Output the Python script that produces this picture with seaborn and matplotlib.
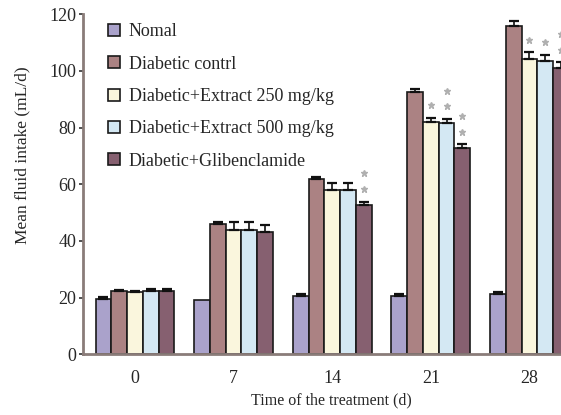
import numpy as np
import pandas as pd
import matplotlib
matplotlib.use("Agg")
import matplotlib.pyplot as plt
import seaborn as sns

# datos
days = ["0", "7", "14", "21", "28"]
groups = ["Nomal", "Diabetic contrl", "Diabetic+Extract 250 mg/kg",
          "Diabetic+Extract 500 mg/kg", "Diabetic+Glibenclamide"]

nomal = [19.5, 19.3, 20.5, 20.5, 21.2]
diabetic = [22.5, 46.0, 62.0, 92.5, 115.8]
extract250 = [22.0, 43.8, 57.8, 81.8, 104.3]
extract500 = [22.5, 43.8, 57.8, 81.5, 103.5]
gliben = [22.5, 43.3, 52.8, 72.8, 101.0]

err_nomal = [0.6, 0.0, 0.7, 0.7, 0.8]
err_diabetic = [0.3, 0.8, 0.7, 1.0, 1.6]
err_250 = [0.4, 2.8, 2.5, 1.5, 2.2]
err_500 = [0.5, 2.8, 2.5, 1.5, 2.2]
err_gliben = [0.5, 2.5, 1.0, 1.3, 2.0]

# numero de asteriscos sobre cada barra (filas = grupos, columnas = dias)
stars = [
    [0, 0, 0, 0, 0],
    [0, 0, 0, 0, 0],
    [0, 0, 0, 1, 1],
    [0, 0, 0, 2, 1],
    [0, 0, 2, 2, 2],
]

colors = ["#a69bd2", "#b27b7c", "#fffad8", "#cfe9f8", "#8c5a6f"]

values = [nomal, diabetic, extract250, extract500, gliben]
errors = [err_nomal, err_diabetic, err_250, err_500, err_gliben]

df = pd.DataFrame({
    "day": np.tile(days, len(groups)),
    "group": np.repeat(groups, len(days)),
    "value": np.concatenate(values),
})

sns.set_style("white")
plt.rcParams["font.family"] = ["Liberation Serif", "DejaVu Serif"]

fig = plt.figure(figsize=(5.61, 4.15), dpi=100)
ax = fig.add_axes([0.148, 0.146, 0.852, 0.82])

sns.barplot(data=df, x="day", y="value", hue="group", order=days,
            hue_order=groups, palette=colors, errorbar=None, width=0.8,
            edgecolor="#1a1a1a", linewidth=1.2, ax=ax)

# barras de error y asteriscos
for gi, g in enumerate(groups):
    cont = ax.containers[gi]
    for di, bar in enumerate(cont):
        xc = bar.get_x() + bar.get_width() / 2
        top = values[gi][di]
        e = errors[gi][di]
        if e > 0:
            ax.errorbar(xc, top, yerr=[[0], [e]], fmt="none", ecolor="#111111",
                        elinewidth=1.2, capsize=3.5, capthick=1.6, zorder=3)
        for k in range(stars[gi][di]):
            ax.plot(xc, top + e + 4.5 + 5.5 * k, marker="*", ms=5,
                    color="#b0b0b0", mec="#b0b0b0", zorder=4)

ax.set_xlim(-0.527, 4.32)
ax.set_ylim(0, 120)
ax.set_yticks([0, 20, 40, 60, 80, 100, 120])

for s in ["top", "right"]:
    ax.spines[s].set_visible(False)
for s in ["left", "bottom"]:
    ax.spines[s].set_color("#8a7c79")
    ax.spines[s].set_linewidth(2)

ax.tick_params(axis="y", length=3, width=1.2, color="#333333", pad=2,
               labelsize=13, left=True)
ax.tick_params(axis="x", length=0, pad=11, labelsize=13)

ax.set_xlabel("Time of the treatment (d)", fontsize=11.5)
ax.set_ylabel("Mean fluid intake (mL/d)", fontsize=12.5)
ax.xaxis.set_label_coords(0.519, -0.112)
ax.yaxis.set_label_coords(-0.11, 0.586)

leg = ax.legend(loc="upper left", bbox_to_anchor=(0.03, 1.005), frameon=False,
                fontsize=13, handlelength=0.65, handleheight=0.65,
                handletextpad=0.5, labelspacing=0.85, borderaxespad=0.2)

fig.savefig("out.png", dpi=100)
